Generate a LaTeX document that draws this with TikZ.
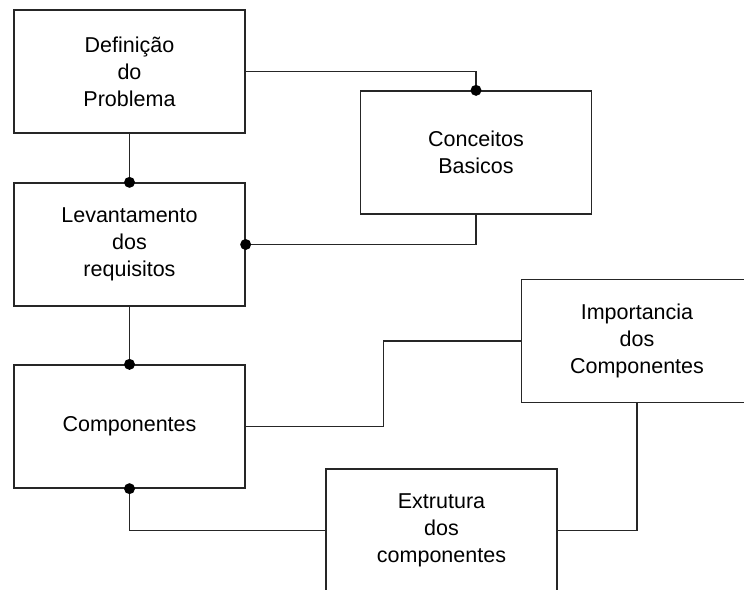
\documentclass[tikz,border=0pt]{standalone}
\usepackage{fontspec}
\setmainfont{Liberation Sans}
\usepackage{tikz}
\usetikzlibrary{calc}

\begin{document}
\begin{tikzpicture}[x=1pt, y=-1pt,
    box/.style={draw=black!85, line width=1.3pt, fill=white, align=center,
      minimum width=231pt, minimum height=123pt, inner sep=0pt,
      font=\fontsize{21.5}{27}\selectfont},
    link/.style={draw=black!85, line width=1.3pt},
    dot/.style={circle, fill=black, inner sep=0pt, minimum size=11pt}]

  \useasboundingbox (0,0) rectangle (744,589);
  \clip (0,0) rectangle (744,589);

  \coordinate (D) at (129.5, 71.5);
  \coordinate (C) at (476.0, 152.5);
  \coordinate (L) at (129.5, 244.5);
  \coordinate (K) at (129.5, 426.5);
  \coordinate (I) at (637.0, 341.0);
  \coordinate (E) at (441.5, 530.5);

  \node[box] (def) at (D) {Definição\\do\\Problema};
  \node[box] (con) at (C) {Conceitos\\Basicos};
  \node[box] (lev) at (L) {Levantamento\\dos\\requisitos};
  \node[box] (comp) at (K) {Componentes};
  \node[box] (imp) at (I) {Importancia\\dos\\Componentes};
  \node[box] (ext) at (E) {Extrutura\\dos\\componentes};

  \coordinate (mid) at ($(comp.east)!.5!(imp.west)$);

  \draw[link] (def.south) -- (lev.north);
  \draw[link] (lev.south) -- (comp.north);
  \draw[link] (def.east) -| (con.north);
  \draw[link] (con.south) |- (lev.east);
  \draw[link] (comp.east) -| (mid) |- (imp.west);
  \draw[link] (imp.south) |- (ext.east);
  \draw[link] (ext.west) -| (comp.south);

  \node[dot] at (lev.north) {};
  \node[dot] at (comp.north) {};
  \node[dot] at (con.north) {};
  \node[dot] at (lev.east) {};
  \node[dot] at (comp.south) {};

\end{tikzpicture}
\end{document}
